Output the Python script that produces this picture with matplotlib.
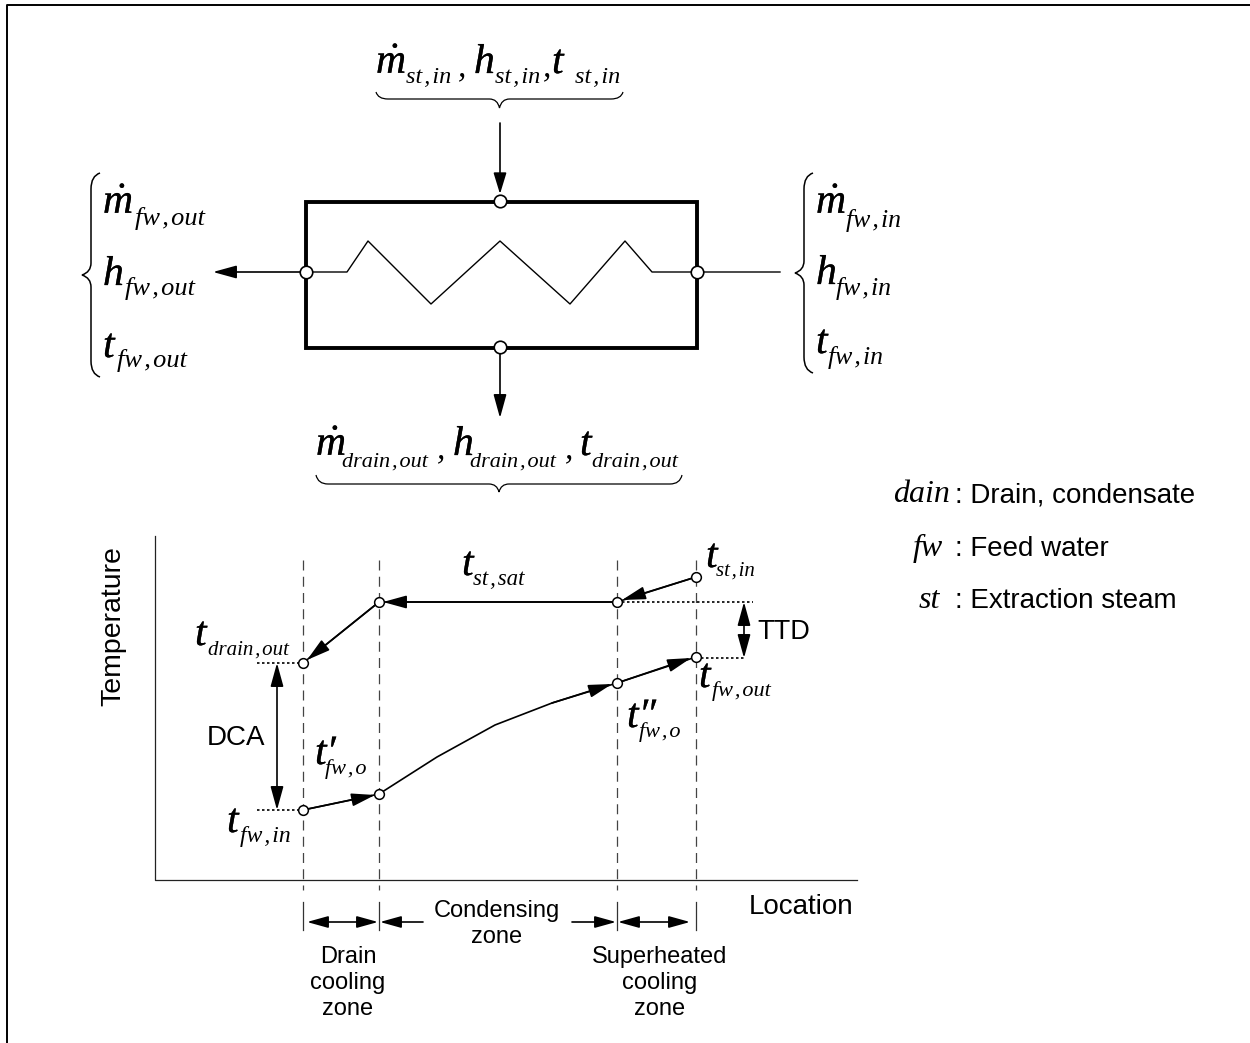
import matplotlib
matplotlib.use('Agg')
import matplotlib.pyplot as plt
import matplotlib.patheffects as pe
from matplotlib.patches import FancyArrowPatch, PathPatch, Rectangle
from matplotlib.path import Path

plt.rcParams['font.family'] = ['Liberation Sans', 'DejaVu Sans']
plt.rcParams['mathtext.fontset'] = 'custom'
plt.rcParams['mathtext.it'] = 'Liberation Serif:italic'
plt.rcParams['mathtext.rm'] = 'Liberation Serif'

# heater coil and temperature profile, in picture pixels
coil_x = [306, 347, 368, 431, 500, 570, 625, 652, 697, 780]
coil_y = [272, 272, 241, 304, 241, 304, 241, 272, 272, 272]
box_left, box_top, box_right, box_bottom = 306, 202, 697, 348

zone_x = [303, 379, 617, 696]
steam_x = [303, 379, 617, 696]
steam_y = [663, 602, 602, 577]
water_x = [303, 379, 437, 495, 552, 617, 696]
water_y = [810, 794, 757, 725, 703, 683, 657]
water_marks = [0, 1, 5, 6]

axis_x = [155, 155, 857]
axis_y = [536, 880, 880]

SEP = '\u200a,\u200a'

# main text, subscript, main x, main baseline, sub x, sub baseline, main size, sub size
variables = [
    (r'$\dot{m}$', 'st' + SEP + 'in', 376, 73, 406, 83, 30, 17.5),
    ('h', 'st' + SEP + 'in', 474, 73, 495, 83, 30, 17.5),
    ('t', 'st' + SEP + 'in', 552, 73, 575, 83, 30, 17.5),
    (r'$\dot{m}$', 'drain' + SEP + 'out', 316, 455, 342, 467, 30, 16),
    ('h', 'drain' + SEP + 'out', 453, 455, 470, 467, 30, 16),
    ('t', 'drain' + SEP + 'out', 580, 455, 592, 467, 30, 16),
    (r'$\dot{m}$', 'fw' + SEP + 'out', 103, 213, 135, 225, 30, 19),
    ('h', 'fw' + SEP + 'out', 103, 285, 125, 295, 30, 19),
    ('t', 'fw' + SEP + 'out', 103, 357, 117, 367, 30, 19),
    (r'$\dot{m}$', 'fw' + SEP + 'in', 816, 213, 846, 227, 30, 18.5),
    ('h', 'fw' + SEP + 'in', 816, 284, 836, 295, 30, 18.5),
    ('t', 'fw' + SEP + 'in', 816, 353, 828, 364, 30, 18.5),
    ('t', 'drain' + SEP + 'out', 195, 645, 208, 655, 30, 15),
    ('t', 'fw' + SEP + 'in', 227, 832, 240, 842, 30, 17),
    ('t\u2032', 'fw' + SEP + 'o', 315, 764, 325, 774, 30, 16),
    ('t', 'st' + SEP + 'sat', 462, 575, 473, 585, 30, 16.5),
    ('t', 'st' + SEP + 'in', 706, 567, 716, 576, 30, 15),
    ('t', 'fw' + SEP + 'out', 699, 687, 712, 696, 30, 16),
    ('t\u2033', 'fw' + SEP + 'o', 627, 727, 639, 737, 30, 16),
]

legend_keys = ['dain', 'fw', 'st']
legend_key_x = [893, 913, 919]
legend_text = [': Drain, condensate', ': Feed water', ': Extraction steam']
legend_y = [502, 556, 608]


def arrow(ax, start, tip, both=False, head=20, half=5.5):
    # head sizes given in pixels, the patch wants points
    scale = 72 / 100
    style = f"{'<|-|>' if both else '-|>'},head_length={head * scale},head_width={half * scale}"
    ax.add_patch(FancyArrowPatch(start, tip, arrowstyle=style, mutation_scale=1,
                                 shrinkA=0, shrinkB=0, lw=1.2, color='black', zorder=3))


def hbrace(ax, x0, x1, y0, y1, y2):
    xm = (x0 + x1) / 2
    verts = [(x0, y0), (x0 + 2, y1), (x0 + 12, y1), (xm - 10, y1), (xm - 2, y1), (xm, y2),
             (xm + 2, y1), (xm + 10, y1), (x1 - 12, y1), (x1 - 2, y1), (x1, y0)]
    codes = [Path.MOVETO, Path.CURVE3, Path.CURVE3, Path.LINETO, Path.CURVE3, Path.CURVE3,
             Path.CURVE3, Path.CURVE3, Path.LINETO, Path.CURVE3, Path.CURVE3]
    ax.add_patch(PathPatch(Path(verts, codes), fc='none', ec='black', lw=0.9))


def vbrace(ax, x0, x1, x2, y0, y1):
    ym = (y0 + y1) / 2
    verts = [(x0, y0), (x1, y0 + 3), (x1, y0 + 16), (x1, ym - 12), (x1, ym - 3), (x2, ym),
             (x1, ym + 3), (x1, ym + 12), (x1, y1 - 16), (x1, y1 - 3), (x0, y1)]
    codes = [Path.MOVETO, Path.CURVE3, Path.CURVE3, Path.LINETO, Path.CURVE3, Path.CURVE3,
             Path.CURVE3, Path.CURVE3, Path.LINETO, Path.CURVE3, Path.CURVE3]
    ax.add_patch(PathPatch(Path(verts, codes), fc='none', ec='black', lw=1.1))


fig = plt.figure(figsize=(12.5, 10.43), dpi=100)
ax = fig.add_axes([0, 0, 1, 1])
ax.set_xlim(0, 1250)
ax.set_ylim(1043, 0)
ax.axis('off')

# outer frame
ax.plot([7, 7, 1250], [1043, 5, 5], color='black', lw=1.4)

# heater
ax.add_patch(Rectangle((box_left, box_top), box_right - box_left, box_bottom - box_top,
                       fc='none', ec='black', lw=2.8, zorder=2))
ax.plot(coil_x, coil_y, color='black', lw=1.0)
ax.plot([500, 500, 306, 697], [201, 347, 272, 272], ls='none', marker='o', ms=9,
        mfc='white', mec='black', mew=1.2, zorder=4)
arrow(ax, (500, 123), (500, 194), head=18)
arrow(ax, (500, 353), (500, 418))
arrow(ax, (300, 272), (213, 272))

hbrace(ax, 376, 623, 92, 99, 108)
hbrace(ax, 316, 682, 475, 484, 492)
vbrace(ax, 100, 91, 82, 173, 377)
vbrace(ax, 813, 804, 795, 173, 373)

# temperature profile
ax.plot(axis_x, axis_y, color='#222222', lw=0.9)
for x in zone_x:
    ax.plot([x, x], [560, 890], color='#444444', lw=0.9, dashes=(8, 5))
    ax.plot([x, x], [902, 930], color='#333333', lw=0.9)

ax.plot(steam_x, steam_y, color='black', lw=1.2, zorder=2)
ax.plot(water_x, water_y, color='black', lw=1.2, zorder=2)
ax.plot(steam_x, steam_y, ls='none', marker='o', ms=7, mfc='white', mec='black', mew=1.1, zorder=4)
ax.plot([water_x[i] for i in water_marks], [water_y[i] for i in water_marks], ls='none',
        marker='o', ms=7, mfc='white', mec='black', mew=1.1, zorder=4)

arrow(ax, (617, 602), (383, 602))
arrow(ax, (379, 602), (307, 660))
arrow(ax, (696, 577), (622, 600))
arrow(ax, (303, 810), (375, 795))
arrow(ax, (552, 703), (612, 684))
arrow(ax, (617, 683), (691, 658))
arrow(ax, (277, 663), (277, 810), both=True)
arrow(ax, (744, 602), (744, 658), both=True)

for xs, y in (([257, 303], 663), ([257, 303], 810), ([617, 753], 602), ([696, 744], 658)):
    ax.plot(xs, [y, y], color='black', lw=1.2, dashes=(1.5, 1.5))

# zone arrows
arrow(ax, (307, 922), (378, 922), both=True, head=18, half=5)
arrow(ax, (423, 922), (380, 922), head=18, half=5)
arrow(ax, (572, 922), (616, 922), head=18, half=5)
arrow(ax, (618, 922), (690, 922), both=True, head=18, half=5)

# a thin stroke brings the serif letters up to the reference weight
heavy = [pe.withStroke(linewidth=0.2, foreground='black')]
for main, sub, mx, my, sx, sy, ms, ss in variables:
    ax.text(mx, my, main, family='Liberation Serif', style='italic', fontsize=ms,
            va='baseline', ha='left', path_effects=heavy)
    ax.text(sx, sy, sub, family='Liberation Serif', style='italic', fontsize=ss, va='baseline', ha='left')

# commas between the top and bottom groups
for x, y in ((458, 76), (543, 76), (437, 458), (565, 458)):
    ax.text(x, y, ',', family='Liberation Serif', style='italic', fontsize=24, va='baseline', ha='left')

ax.text(113, 626, 'Temperature', rotation=90, fontsize=20.5, ha='center', va='center')
ax.text(749, 914, 'Location', fontsize=20, ha='left', va='baseline')
ax.text(236, 738, 'DCA', fontsize=20, ha='center', va='center')
ax.text(757, 632, 'TTD', fontsize=19.5, ha='left', va='center')
ax.text(497, 924, 'Condensing\nzone', fontsize=17, ha='center', va='center', linespacing=1.24)
ax.text(348, 983, 'Drain\ncooling\nzone', fontsize=17, ha='center', va='center', linespacing=1.24)
ax.text(660, 983, 'Superheated\ncooling\nzone', fontsize=17, ha='center', va='center', linespacing=1.24)

for key, kx, label, y in zip(legend_keys, legend_key_x, legend_text, legend_y):
    ax.text(kx, y, key, family='Liberation Serif', style='italic', fontsize=23, va='baseline', ha='left')
    ax.text(955, y, label, fontsize=20, va='baseline', ha='left')

fig.savefig('out.png', dpi=100)
